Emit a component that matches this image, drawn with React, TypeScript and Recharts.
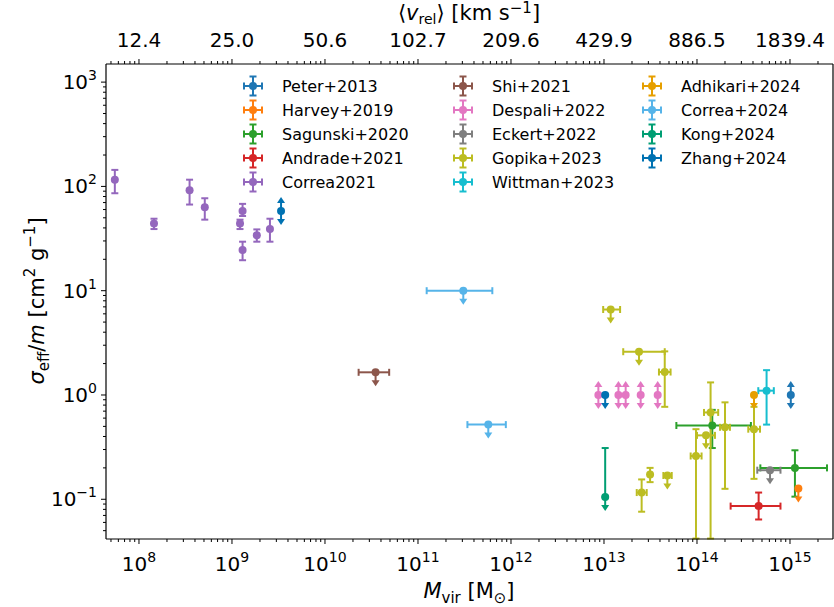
import React from 'react'
import { ScatterChart, Scatter, XAxis, YAxis, ErrorBar } from 'recharts'

const FONT = '"DejaVu Sans", sans-serif'

// rows: [M_vir, sigma/m, M low, M high, sigma low, sigma high, limit]
type Row = [number, number, number | null, number | null, number | null, number | null, string | null]

const PETER: Row[] = [[1.02e15, 1.0, null, null, null, null, 'both']]
const HARVEY: Row[] = [[1.23e15, 0.127, null, null, null, null, 'up']]
const SAGUNSKI: Row[] = [
  [1.46e14, 0.51, 6.0e13, 3.8e14, 0.31, 0.72, null],
  [1.13e15, 0.2, 4.8e14, 2.5e15, 0.106, 0.295, null],
]
const ANDRADE: Row[] = [[4.6e14, 0.086, 2.3e14, 7.9e14, 0.064, 0.116, null]]
const CORREA2021: Row[] = [
  [5.5e7, 116, null, null, 86, 144, null],
  [1.45e8, 44, null, null, 39, 49, null],
  [3.5e8, 92, null, null, 67, 116, null],
  [5.1e8, 63, null, null, 48, 77, null],
  [1.22e9, 44, null, null, 39, 48, null],
  [1.3e9, 58, null, null, 52, 68, null],
  [1.3e9, 24.6, null, null, 19.6, 29.5, null],
  [1.85e9, 34, null, null, 29.5, 38.7, null],
  [2.56e9, 39, null, null, 29.5, 49, null],
]
const SHI: Row[] = [[3.5e10, 1.65, 2.3e10, 4.9e10, null, null, 'up']]
const DESPALI: Row[] = [
  [8.7e12, 1.0, null, null, null, null, 'both'],
  [1.43e13, 1.0, null, null, null, null, 'both'],
  [1.71e13, 1.0, null, null, null, null, 'both'],
  [2.48e13, 1.0, null, null, null, null, 'both'],
  [3.78e13, 1.0, null, null, null, null, 'both'],
]
const ECKERT: Row[] = [[6.1e14, 0.19, 4.45e14, 7.9e14, null, null, 'up']]
const GOPIKA: Row[] = [
  [1.18e13, 6.6, 9.8e12, 1.49e13, null, null, 'up'],
  [2.38e13, 2.6, 1.61e13, 4.5e13, null, null, 'up'],
  [4.5e13, 1.66, 3.9e13, 5.2e13, 0.77, 2.62, null],
  [3.13e13, 0.173, null, null, 0.146, 0.2, null],
  [2.54e13, 0.116, 2.25e13, 2.88e13, 0.076, 0.155, null],
  [4.8e13, 0.169, 4.35e13, 5.35e13, null, null, 'up'],
  [1.4e14, 0.68, 1.19e14, 1.69e14, 0.042, 1.32, null],
  [1.25e14, 0.41, 1.0e14, 1.56e14, null, null, 'up'],
  [9.75e13, 0.26, 8.55e13, 1.12e14, 0.042, 0.47, null],
  [2.0e14, 0.49, 1.77e14, 2.26e14, 0.126, 0.85, null],
  [4.1e14, 0.47, 3.56e14, 4.76e14, 0.157, 0.77, null],
]
const WITTMAN: Row[] = [[5.6e14, 1.1, 4.56e14, 6.7e14, 0.52, 1.73, null]]
const ADHIKARI: Row[] = [[4.1e14, 1.0, null, null, null, null, 'up']]
const CORREA2024: Row[] = [
  [3.07e11, 10, 1.24e11, 6.3e11, null, null, 'up'],
  [5.7e11, 0.52, 3.4e11, 8.8e11, null, null, 'up'],
]
const KONG: Row[] = [[1.03e13, 0.105, null, null, 0.105, 0.31, 'up']]
const ZHANG: Row[] = [
  [3.37e9, 58, null, null, null, null, 'both'],
  [1.03e13, 1.0, null, null, null, null, 'up'],
]

const SERIES = [
  { name: 'Peter+2013', color: '#1f77b4', rows: PETER },
  { name: 'Harvey+2019', color: '#ff7f0e', rows: HARVEY },
  { name: 'Sagunski+2020', color: '#2ca02c', rows: SAGUNSKI },
  { name: 'Andrade+2021', color: '#d62728', rows: ANDRADE },
  { name: 'Correa2021', color: '#9467bd', rows: CORREA2021 },
  { name: 'Shi+2021', color: '#8c564b', rows: SHI },
  { name: 'Despali+2022', color: '#e377c2', rows: DESPALI },
  { name: 'Eckert+2022', color: '#7f7f7f', rows: ECKERT },
  { name: 'Gopika+2023', color: '#bcbd22', rows: GOPIKA },
  { name: 'Wittman+2023', color: '#17becf', rows: WITTMAN },
  { name: 'Adhikari+2024', color: '#e69f00', rows: ADHIKARI },
  { name: 'Correa+2024', color: '#56b4e9', rows: CORREA2024 },
  { name: 'Kong+2024', color: '#009e73', rows: KONG },
  { name: 'Zhang+2024', color: '#0072b2', rows: ZHANG },
]

const X_DOMAIN: [number, number] = [4.42e7, 2.9e15]
const Y_DOMAIN: [number, number] = [0.0416, 1492]
const X_MAJOR = [1e8, 1e9, 1e10, 1e11, 1e12, 1e13, 1e14, 1e15]
const V_LABELS = ['12.4', '25.0', '50.6', '102.7', '209.6', '429.9', '886.5', '1839.4']

function logTicks(lo: number, hi: number) {
  const out: number[] = []
  for (let n = Math.floor(Math.log10(lo)); n <= Math.ceil(Math.log10(hi)); n++) {
    for (let k = 1; k <= 9; k++) {
      const v = k * Math.pow(10, n)
      if (v >= lo && v <= hi) out.push(v)
    }
  }
  return out
}
const X_TICKS = logTicks(X_DOMAIN[0], X_DOMAIN[1])
const Y_TICKS = logTicks(Y_DOMAIN[0], Y_DOMAIN[1])

const expOf = (v: number) => Math.round(Math.log10(v))
const isMajor = (v: number) => Math.abs(Math.log10(v) - expOf(v)) < 1e-6
const expText = (e: number) => (e < 0 ? '\u2212' + Math.abs(e) : String(e))

const toTable = (rows: Row[]) =>
  rows.map(([m, s, mlo, mhi, slo, shi, lim]) => ({
    m,
    s,
    ex: mlo == null || mhi == null ? null : [m - mlo, mhi - m],
    ey: slo == null || shi == null ? null : [s - slo, shi - s],
    lim,
  }))

const BottomTick = (p: any) => {
  const { x, y, payload } = p
  const major = isMajor(payload.value)
  return (
    <g>
      <line x1={x} x2={x} y1={y} y2={y + (major ? 5 : 3)} stroke="#000" strokeWidth={1} />
      {major && (
        <text x={x} y={y + 32} textAnchor="middle" fontSize={20} fontFamily={FONT} fill="#000">
          10<tspan dy={-9} fontSize={14}>{expText(expOf(payload.value))}</tspan>
        </text>
      )}
    </g>
  )
}

const TopTick = (p: any) => {
  const { x, y, payload } = p
  const major = isMajor(payload.value)
  const idx = X_MAJOR.findIndex((v) => Math.abs(Math.log10(v) - Math.log10(payload.value)) < 1e-6)
  return (
    <g>
      <line x1={x} x2={x} y1={y} y2={y - (major ? 5 : 3)} stroke="#000" strokeWidth={1} />
      {major && idx >= 0 && (
        <text x={x} y={y - 17} textAnchor="middle" fontSize={20} fontFamily={FONT} fill="#000">
          {V_LABELS[idx]}
        </text>
      )}
    </g>
  )
}

const LeftTick = (p: any) => {
  const { x, y, payload } = p
  const major = isMajor(payload.value)
  return (
    <g>
      <line x1={x} x2={x - (major ? 5 : 3)} y1={y} y2={y} stroke="#000" strokeWidth={1} />
      {major && (
        <text x={x - 9} y={y + 7} textAnchor="end" fontSize={20} fontFamily={FONT} fill="#000">
          10<tspan dy={-9} fontSize={14}>{expText(expOf(payload.value))}</tspan>
        </text>
      )}
    </g>
  )
}

const BottomTitle = () => (
  <text x={469} y={598} textAnchor="middle" fontSize={21} fontFamily={FONT} fill="#000">
    <tspan fontStyle="italic">M</tspan>
    <tspan dy={5} fontSize={15}>vir</tspan>
    <tspan dy={-5}> [M</tspan>
    <tspan dy={5} fontSize={15}>{'\u2299'}</tspan>
    <tspan dy={-5}>]</tspan>
  </text>
)

const TopTitle = () => (
  <text x={469} y={20} textAnchor="middle" fontSize={21} fontFamily={FONT} fill="#000">
    {'\u27e8'}
    <tspan fontStyle="italic">v</tspan>
    <tspan dy={4} fontSize={14}>rel</tspan>
    <tspan dy={-4}>{'\u27e9'} [km s</tspan>
    <tspan dy={-7} fontSize={15}>{'\u22121'}</tspan>
    <tspan dy={7}>]</tspan>
  </text>
)

const LeftTitle = () => (
  <text
    x={0}
    y={0}
    transform="translate(44,301) rotate(-90)"
    textAnchor="middle"
    fontSize={21}
    fontFamily={FONT}
    fill="#000"
  >
    <tspan fontStyle="italic">{'\u03c3'}</tspan>
    <tspan dy={5} fontSize={15}>eff</tspan>
    <tspan dy={-5}>/</tspan>
    <tspan fontStyle="italic">m</tspan>
    <tspan> [cm</tspan>
    <tspan dy={-9} fontSize={15}>2</tspan>
    <tspan dy={9}> g</tspan>
    <tspan dy={-9} fontSize={15}>{'\u22121'}</tspan>
    <tspan dy={9}>]</tspan>
  </text>
)

const Arrow = ({ x, y, dir, color }: { x: number; y: number; dir: number; color: string }) => (
  <g>
    <line x1={x} y1={y} x2={x} y2={y + dir * 9} stroke={color} strokeWidth={2} />
    <path d={`M${x - 4},${y + dir * 8} L${x + 4},${y + dir * 8} L${x},${y + dir * 14} Z`} fill={color} />
  </g>
)

const makeShape = (color: string) => (props: any) => {
  const { cx, cy, payload } = props
  if (cx == null || cy == null) return <g />
  const lim = payload?.lim
  return (
    <g>
      {(lim === 'up' || lim === 'both') && <Arrow x={cx} y={cy} dir={1} color={color} />}
      {lim === 'both' && <Arrow x={cx} y={cy} dir={-1} color={color} />}
      <circle cx={cx} cy={cy} r={4} fill={color} />
    </g>
  )
}

const LegendIcon = ({ color }: { color: string }) => (
  <svg width={32} height={24} style={{ display: 'block' }}>
    <g stroke={color} strokeWidth={2}>
      <line x1={7} y1={12} x2={25} y2={12} />
      <line x1={7} y1={8.5} x2={7} y2={15.5} />
      <line x1={25} y1={8.5} x2={25} y2={15.5} />
      <line x1={16} y1={2.5} x2={16} y2={21.5} />
      <line x1={12.5} y1={2.5} x2={19.5} y2={2.5} />
      <line x1={12.5} y1={21.5} x2={19.5} y2={21.5} />
    </g>
    <circle cx={16} cy={12} r={4} fill={color} />
  </svg>
)

const LEGEND_COLS = [253, 463, 652]
const LEGEND_TOP = 86
const LEGEND_ROW = 24

function ChartLegend() {
  return (
    <>
      {SERIES.map((s, i) => {
        const col = Math.floor(i / 5)
        const row = i % 5
        return (
          <div
            key={s.name}
            style={{
              position: 'absolute',
              left: LEGEND_COLS[col] - 16,
              top: LEGEND_TOP + row * LEGEND_ROW - 12,
              height: 24,
              display: 'flex',
              alignItems: 'center',
              fontFamily: FONT,
              fontSize: 16,
              whiteSpace: 'nowrap',
              color: '#000',
            }}
          >
            <LegendIcon color={s.color} />
            <span style={{ marginLeft: 13 }}>{s.name}</span>
          </div>
        )
      })}
    </>
  )
}

export default function App() {
  const axisLine = { stroke: '#000', strokeWidth: 1.2 }
  return (
    <div style={{ position: 'absolute', left: 0, top: 0, width: 834, height: 607, background: '#fff' }}>
      <ScatterChart width={834} height={607} margin={{ top: 63, right: 0, bottom: 67, left: 105 }}>
        <XAxis
          xAxisId="b"
          dataKey="m"
          type="number"
          scale="log"
          domain={X_DOMAIN}
          allowDataOverflow
          ticks={X_TICKS}
          interval={0}
          tick={(p: any) => <BottomTick {...p} />}
          tickLine={false}
          tickSize={0}
          tickMargin={0}
          height={1}
          axisLine={axisLine}
          label={{ content: BottomTitle }}
        />
        <XAxis
          xAxisId="t"
          orientation="top"
          dataKey="m"
          type="number"
          scale="log"
          domain={X_DOMAIN}
          allowDataOverflow
          ticks={X_TICKS}
          interval={0}
          tick={(p: any) => <TopTick {...p} />}
          tickLine={false}
          tickSize={0}
          tickMargin={0}
          height={1}
          axisLine={axisLine}
          label={{ content: TopTitle }}
        />
        <YAxis
          yAxisId="l"
          dataKey="s"
          type="number"
          scale="log"
          domain={Y_DOMAIN}
          allowDataOverflow
          ticks={Y_TICKS}
          interval={0}
          tick={(p: any) => <LeftTick {...p} />}
          tickLine={false}
          tickSize={0}
          tickMargin={0}
          width={1}
          axisLine={axisLine}
          label={{ content: LeftTitle }}
        />
        <YAxis
          yAxisId="r"
          orientation="right"
          dataKey="s"
          type="number"
          scale="log"
          domain={Y_DOMAIN}
          allowDataOverflow
          tick={false}
          tickLine={false}
          width={1}
          axisLine={axisLine}
        />
        {SERIES.map((s) => (
          <Scatter
            key={s.name}
            name={s.name}
            xAxisId="b"
            yAxisId="l"
            data={toTable(s.rows)}
            fill={s.color}
            shape={makeShape(s.color)}
            isAnimationActive={false}
          >
            <ErrorBar dataKey="ex" direction="x" width={3.5} stroke={s.color} strokeWidth={2} isAnimationActive={false} />
            <ErrorBar dataKey="ey" direction="y" width={3.5} stroke={s.color} strokeWidth={2} isAnimationActive={false} />
          </Scatter>
        ))}
      </ScatterChart>
      <ChartLegend />
    </div>
  )
}
